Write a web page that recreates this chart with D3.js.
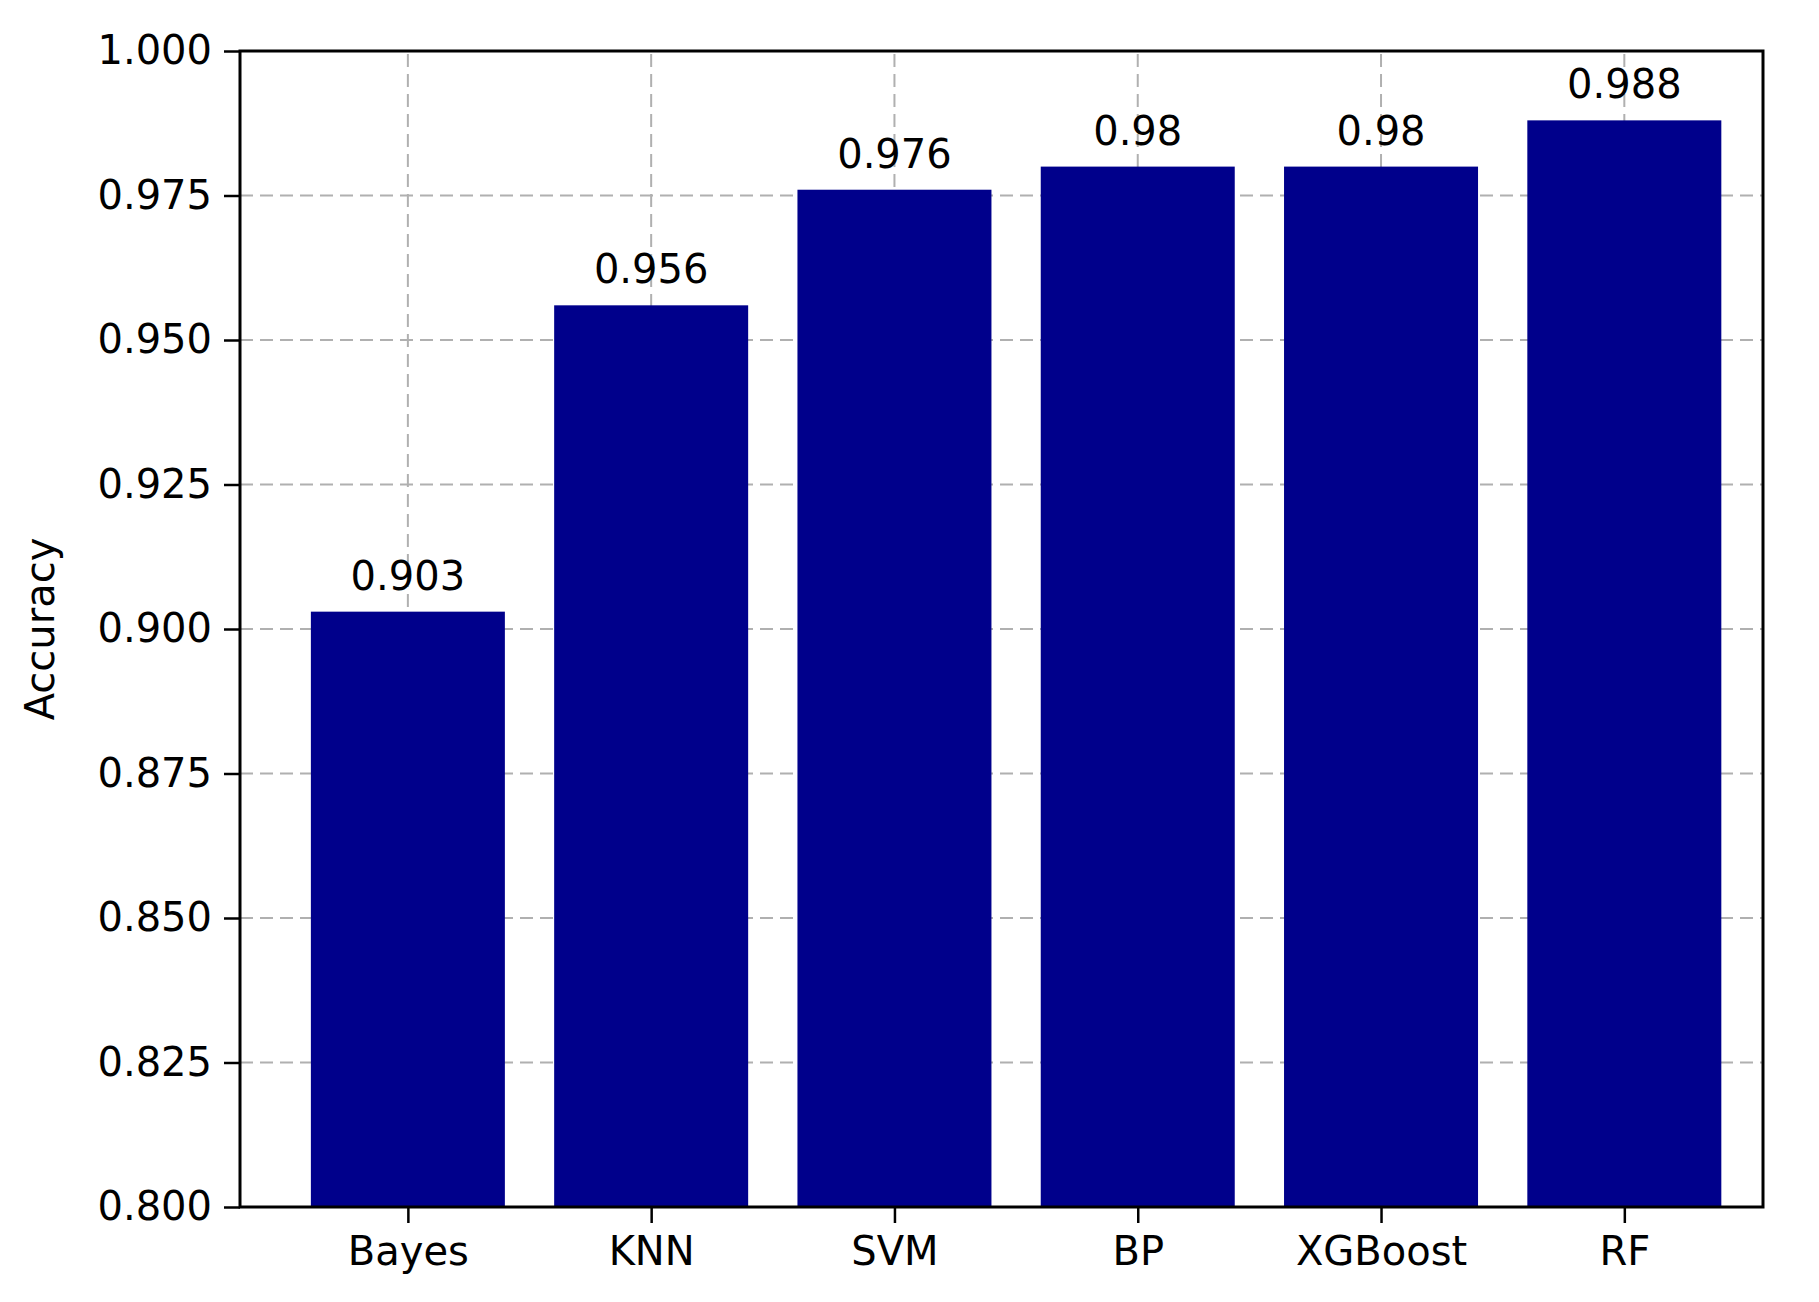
<!DOCTYPE html>
<html>
<head>
<meta charset="utf-8">
<script src="https://d3js.org/d3.v7.min.js"></script>
<style>
  body { margin: 0; background: #fff; }
  text { font-family: "DejaVu Sans", sans-serif; fill: #000; }
</style>
</head>
<body>
<svg id="chart" width="1819" height="1302"></svg>
<script>
var models = ["Bayes", "KNN", "SVM", "BP", "XGBoost", "RF"];
var accuracy = [0.903, 0.956, 0.976, 0.98, 0.98, 0.988];
var yTicks = [0.800, 0.825, 0.850, 0.875, 0.900, 0.925, 0.950, 0.975, 1.000];

var margin = {left: 240, right: 56, top: 51, bottom: 95};
var W = 1819, H = 1302;
var svg = d3.select("#chart");

var x = d3.scaleLinear().domain([-0.69, 5.57]).range([margin.left, W - margin.right]);
var y = d3.scaleLinear().domain([0.8, 1.0]).range([H - margin.bottom, margin.top]);
var barW = 194;

// grid
svg.append("g").selectAll("line.h").data(yTicks).enter().append("line")
  .attr("x1", x.range()[0]).attr("x2", x.range()[1])
  .attr("y1", d => y(d)).attr("y2", d => y(d))
  .attr("stroke", "#b0b0b0").attr("stroke-width", 2).attr("stroke-dasharray", "13,7");
svg.append("g").selectAll("line.v").data(models).enter().append("line")
  .attr("x1", (d, i) => x(i)).attr("x2", (d, i) => x(i))
  .attr("y1", y.range()[0]).attr("y2", y.range()[1])
  .attr("stroke", "#b0b0b0").attr("stroke-width", 2).attr("stroke-dasharray", "13,7");

// bars
svg.append("g").selectAll("rect").data(accuracy).enter().append("rect")
  .attr("x", (d, i) => x(i) - barW / 2).attr("width", barW)
  .attr("y", d => y(d)).attr("height", d => y(0.8) - y(d))
  .attr("fill", "#00008b");

// value labels
svg.append("g").selectAll("text").data(accuracy).enter().append("text")
  .attr("x", (d, i) => x(i)).attr("y", d => y(d) - 22)
  .attr("text-anchor", "middle").style("font-size", "40px")
  .text(d => String(d));

// axes
var yAxis = d3.axisLeft(y).tickValues(yTicks).tickFormat(d3.format(".3f")).tickSize(16).tickPadding(12);
var gy = svg.append("g").attr("transform", `translate(${margin.left},0)`).call(yAxis);
var xAxis = d3.axisBottom(x).tickValues(d3.range(models.length)).tickFormat(i => models[i]).tickSize(16).tickPadding(14);
var gx = svg.append("g").attr("transform", `translate(0,${H - margin.bottom})`).call(xAxis);
[gy, gx].forEach(g => {
  g.selectAll("text").style("font-size", "40px").style("font-family", "DejaVu Sans, sans-serif");
  g.selectAll(".tick line").attr("stroke", "#000").attr("stroke-width", 2.5);
  g.select(".domain").remove();
});

// frame
svg.append("rect")
  .attr("x", x.range()[0]).attr("y", y.range()[1])
  .attr("width", x.range()[1] - x.range()[0]).attr("height", y.range()[0] - y.range()[1])
  .attr("fill", "none").attr("stroke", "#000").attr("stroke-width", 3);

svg.append("text")
  .attr("transform", `translate(54,${(y.range()[0] + y.range()[1]) / 2}) rotate(-90)`)
  .attr("text-anchor", "middle").style("font-size", "40px")
  .text("Accuracy");
</script>
</body>
</html>
